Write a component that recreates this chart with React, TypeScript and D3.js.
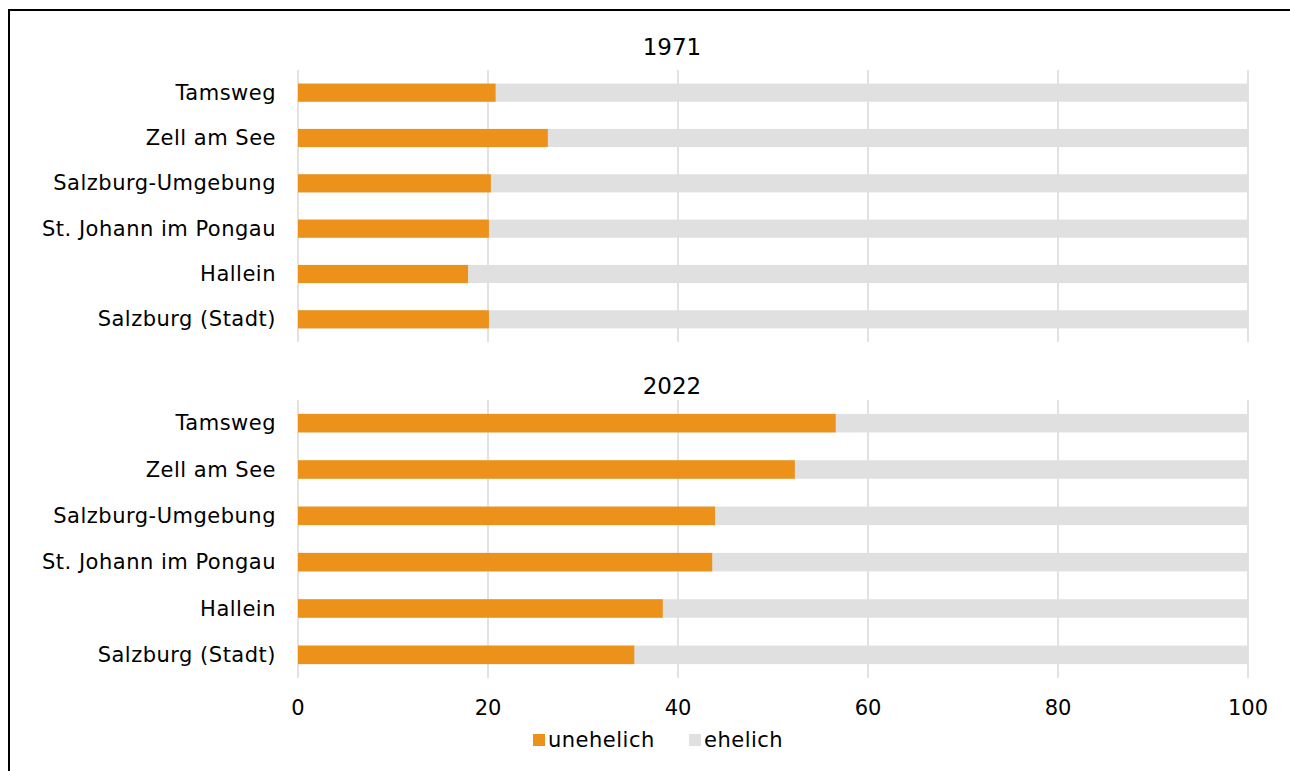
import React from "react";
import * as d3 from "d3";

const districts = ["Tamsweg", "Zell am See", "Salzburg-Umgebung", "St. Johann im Pongau", "Hallein", "Salzburg (Stadt)"];
const years = ["1971", "2022"];
const unehelich1971 = [20.8, 26.3, 20.3, 20.1, 17.9, 20.1];
const unehelich2022 = [56.6, 52.3, 43.9, 43.6, 38.4, 35.4];
const ticks = [0, 20, 40, 60, 80, 100];
const seriesNames = ["unehelich", "ehelich"];

const ORANGE = "#EC921B";
const GREY = "#E0E0E0";
const GRID = "#D9D9D9";
const FONT = "'DejaVu Sans', sans-serif";

export default function App() {
  const x = d3.scaleLinear().domain([0, 100]).range([298, 1248]);
  const panels = [
    { year: years[0], values: unehelich1971, top: 70, bottom: 342, titleY: 47 },
    { year: years[1], values: unehelich2022, top: 400, bottom: 678, titleY: 386 },
  ];
  return (
    <svg width={1290} height={771} style={{ position: "absolute", left: 0, top: 0 }} fontFamily={FONT}>
      <rect x={0} y={0} width={1290} height={771} fill="#fff" />
      <rect x={9} y={10} width={1400} height={900} fill="none" stroke="#000" strokeWidth={2} />
      {panels.map((p) => {
        const y = d3.scaleBand().domain(districts).range([p.top, p.bottom]).paddingInner(0.6).paddingOuter(0.3);
        return (
          <g key={p.year}>
            <text x={672} y={p.titleY} textAnchor="middle" dominantBaseline="central" fontSize={23} fill="#000">{p.year}</text>
            {ticks.map((t) => (
              <line key={t} x1={x(t)} x2={x(t)} y1={p.top} y2={p.bottom} stroke={GRID} strokeWidth={1.5} />
            ))}
            {districts.map((d, i) => (
              <g key={d}>
                <rect x={x(0)} y={y(d)} width={x(100) - x(0)} height={y.bandwidth()} fill={GREY} />
                <rect x={x(0)} y={y(d)} width={x(p.values[i]) - x(0)} height={y.bandwidth()} fill={ORANGE} />
                <text x={276} y={(y(d) as number) + y.bandwidth() / 2} textAnchor="end" dominantBaseline="central" fontSize={21} letterSpacing={0.5} fill="#000">{d}</text>
              </g>
            ))}
          </g>
        );
      })}
      {ticks.map((t) => (
        <text key={t} x={x(t)} y={708} textAnchor="middle" dominantBaseline="central" fontSize={21} fill="#000">{t}</text>
      ))}
      <g>
        <rect x={533} y={734} width={12} height={12} fill={ORANGE} />
        <text x={548} y={740} dominantBaseline="central" fontSize={21} letterSpacing={0.5} fill="#000">{seriesNames[0]}</text>
        <rect x={689} y={734} width={12} height={12} fill={GREY} />
        <text x={704} y={740} dominantBaseline="central" fontSize={21} letterSpacing={0.5} fill="#000">{seriesNames[1]}</text>
      </g>
    </svg>
  );
}
